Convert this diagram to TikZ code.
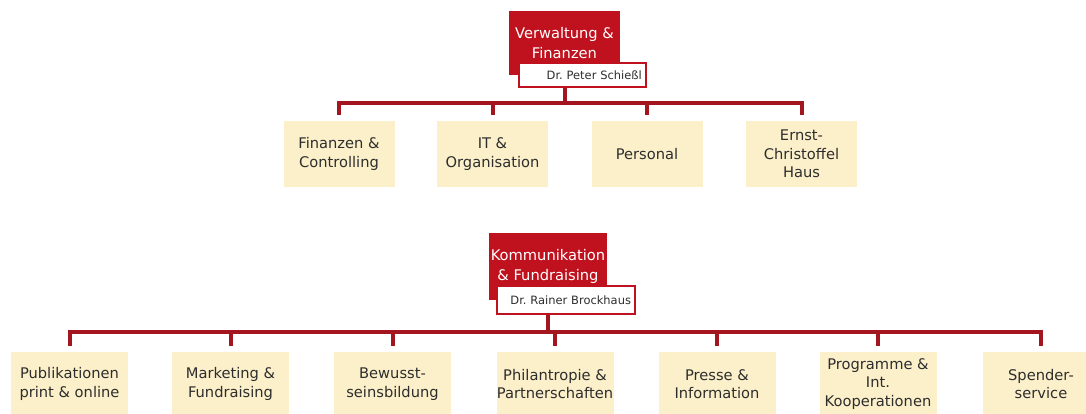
\documentclass[tikz,border=0pt]{standalone}
\usepackage{fontspec}
\setmainfont{DejaVu Sans}
\usetikzlibrary{positioning}

\definecolor{headred}{RGB}{192,18,30}
\definecolor{linkred}{RGB}{163,22,32}
\definecolor{unitfill}{RGB}{252,240,202}
\definecolor{unittext}{RGB}{45,45,45}

\begin{document}
\frenchspacing
\begin{tikzpicture}[x=0.75pt, y=-0.75pt,
  head/.style={fill=headred, text=white, align=center, inner sep=0pt,
               font=\fontsize{11}{14.5}\selectfont},
  lead/.style={draw=headred, line width=1.5pt, fill=white, align=right,
               inner xsep=3pt, inner ysep=0pt, text=unittext,
               font=\fontsize{8.6}{10}\selectfont},
  unit/.style={fill=unitfill, text=unittext, align=center, inner sep=0pt,
               font=\fontsize{11}{14}\selectfont},
  link/.style={draw=linkred, line width=3pt, line join=miter}]
  \useasboundingbox (0,0) rectangle (1086,414);

  % Verwaltung & Finanzen: head, lead and its bus
  \node[head, minimum width=83.25pt, minimum height=48pt] (vwHead) at (564.5,43)
    {Verwaltung \&\\Finanzen};
  \node[lead, text width=89pt, minimum height=18pt] (vwName) at (582.5,75)
    {Dr. Peter Schießl};
  \coordinate (vwBus) at (564.5,103);
  \draw[link] (vwName.south -| vwHead) -- (vwBus);

  % its four departments
  \foreach \nm/\x/\txt in {vwFin/339/{Finanzen \&\\Controlling},
                           vwIT/492.5/{IT \&\\Organisation},
                           vwPers/647/{Personal},
                           vwHaus/801.5/{Ernst-\\Christoffel\\Haus}}{
    \node[unit, minimum width=83.25pt, minimum height=49.5pt] (\nm) at (\x,154) {\txt};
    \draw[link, shorten >=4.5pt] (vwBus) -| (\nm.north);
  }

  % Kommunikation & Fundraising: head, lead and its bus
  \node[head, minimum width=88.5pt, minimum height=50pt] (kfHead) at (548,266.5)
    {Kommunikation\\\& Fundraising};
  \node[lead, text width=97.5pt, minimum height=21pt] (kfName) at (566,300)
    {Dr. Rainer Brockhaus};
  \coordinate (kfBus) at (548,332);
  \draw[link] (kfName.south -| kfHead) -- (kfBus);

  % its seven departments
  \foreach \nm/\x/\txt in {kfPub/69.5/{Publikationen\\print \& online},
                           kfMkt/230.5/{Marketing \&\\Fundraising},
                           kfBew/392.5/{Bewusst-\\seinsbildung},
                           kfPhil/555/{Philantropie \&\\Partnerschaften},
                           kfPresse/717/{Presse \&\\Information},
                           kfProg/878/{Programme \&\\Int.\\Kooperationen},
                           kfSpend/1041/{Spender-\\service}}{
    \node[unit, minimum width=87.75pt, minimum height=48pt] (\nm) at (\x,384) {\txt};
    \draw[link, shorten >=4.5pt] (kfBus) -| (\nm.north);
  }
\end{tikzpicture}
\end{document}
